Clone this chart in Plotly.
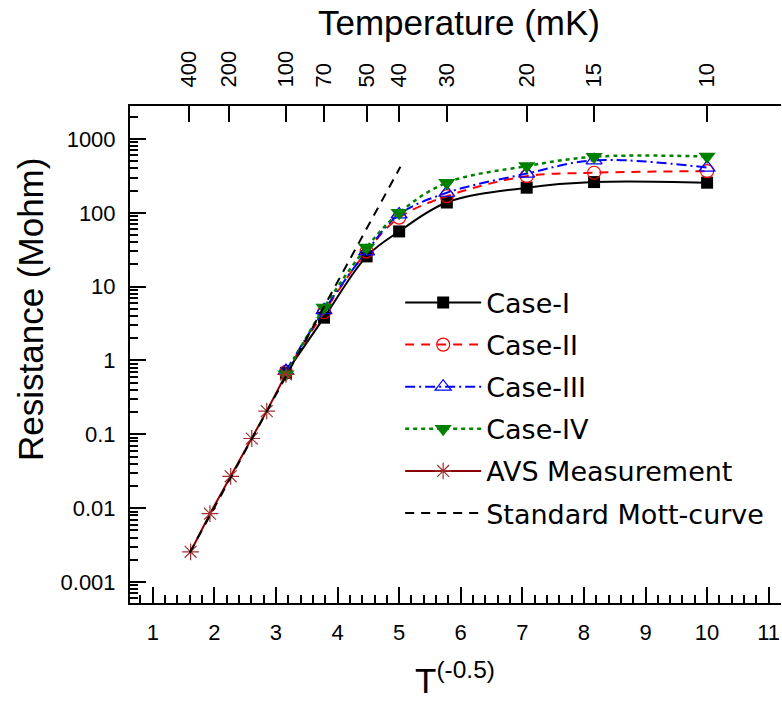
import plotly.graph_objects as go

# Simulated resistance vs. T^(-1/2) for four cases, with the AVS bridge data
# and the standard Mott variable-range-hopping line.
case_x = [3.162, 3.780, 4.472, 5.000, 5.774, 7.071, 8.165, 10.000]
case_i = [0.68, 3.8, 25.7, 56, 138, 219, 261, 256]
case_ii = [0.70, 4.5, 30, 86, 168, 314, 349, 367]
case_iii = [0.72, 4.8, 30, 95, 187, 340, 515, 410]
case_iv = [0.65, 5.2, 34, 100, 256, 430, 575, 580]

avs_x = [1.614, 1.928, 2.265, 2.607, 2.850, 3.162]
avs_r = [0.00256, 0.0084, 0.027, 0.0877, 0.206, 0.65]

mott_x = [1.60, 5.02]
mott_r = [0.0025, 420]

# Temperature axis (mK) on top
temp_mk = [400, 200, 100, 70, 50, 40, 30, 20, 15, 10]
temp_labels = [str(t) for t in temp_mk]

# Resistance decade labels
r_ticks = [0.001, 0.01, 0.1, 1, 10, 100, 1000]
r_labels = ["0.001", "0.01", "0.1", "1", "10", "100", "1000"]

x_range = [0.63, 11.2]
y_range = [-3.285, 3.447]

ARIAL = "Liberation Sans, Arial, sans-serif"
tick_font = dict(family=ARIAL, size=22, color="black")
legend_font = dict(family="DejaVu Sans, Verdana, sans-serif", size=27, color="black")
title_font = dict(family=ARIAL, size=35, color="black")

fig = go.Figure()

fig.add_trace(go.Scatter(
    x=case_x, y=case_i, name="Case-I", mode="lines+markers",
    line=dict(color="black", width=2, shape="spline"),
    marker=dict(symbol="square", size=12, color="black"),
    legendgroup="g1",
))
fig.add_trace(go.Scatter(
    x=case_x, y=case_ii, name="Case-II", mode="lines+markers",
    line=dict(color="#ff0000", width=2, dash="9px,7px", shape="spline"),
    marker=dict(symbol="circle-open", size=13, color="#ff0000", line=dict(width=1.2)),
    legendgroup="g2",
))
fig.add_trace(go.Scatter(
    x=case_x, y=case_iii, name="Case-III", mode="lines+markers",
    line=dict(color="#0000ff", width=2, dash="10px,4px,2px,4px", shape="spline"),
    marker=dict(symbol="triangle-up-open", size=14, color="#0000ff", line=dict(width=1.2)),
    legendgroup="g3",
))
fig.add_trace(go.Scatter(
    x=case_x, y=case_iv, name="Case-IV", mode="lines+markers",
    line=dict(color="#008000", width=2.5, dash="4px,4px", shape="spline"),
    marker=dict(symbol="triangle-down", size=15, color="#008000"),
    legendgroup="g4",
))
fig.add_trace(go.Scatter(
    x=avs_x, y=avs_r, name="AVS Measurement", mode="lines+markers",
    line=dict(color="#8b0000", width=2),
    marker=dict(symbol="asterisk-open", size=14, color="#a03030", line=dict(width=1.2, color="#a03030")),
    legendgroup="g5",
))
fig.add_trace(go.Scatter(
    x=mott_x, y=mott_r, name="Standard Mott-curve", mode="lines",
    line=dict(color="black", width=2, dash="9px,7px"),
    legendgroup="g6",
))

# invisible carrier for the top temperature axis
fig.add_trace(go.Scatter(
    x=[x_range[0]], y=[1], xaxis="x2", mode="markers",
    marker=dict(opacity=0), showlegend=False, hoverinfo="skip",
))

temp_pos = [(t / 1000.0) ** -0.5 for t in temp_mk]

W, H = 782, 704
L, R, T, B = 130, 1, 106, 101
pw, ph = W - L - R, H - T - B


def px_to_paper(px, py):
    return (px - L) / pw, (H - B - py) / ph


fig.update_layout(
    width=W, height=H,
    margin=dict(l=L, r=R, t=T, b=B),
    paper_bgcolor="white", plot_bgcolor="white",
    showlegend=True,
    legend=dict(
        x=0.415, y=0.653, xanchor="left", yanchor="top",
        font=legend_font, itemwidth=76, traceorder="grouped",
        tracegroupgap=4, bgcolor="rgba(0,0,0,0)",
    ),
    xaxis=dict(
        range=x_range, tick0=0, dtick=1, ticks="inside", ticklen=16, tickwidth=2,
        tickcolor="black", showline=True, linewidth=2, linecolor="black",
        showgrid=False, zeroline=False, tickfont=tick_font, ticklabelstandoff=9,
        minor=dict(ticks="inside", ticklen=8, tickwidth=2, tickcolor="black", dtick=0.2, showgrid=False),
    ),
    xaxis2=dict(
        range=x_range, overlaying="x", side="top", tickmode="array",
        tickvals=temp_pos, ticktext=temp_labels, tickangle=-90,
        ticks="inside", ticklen=16, tickwidth=2, tickcolor="black",
        showline=True, linewidth=2, linecolor="black", showgrid=False,
        zeroline=False, tickfont=tick_font, ticklabelstandoff=12,
    ),
    yaxis=dict(
        type="log", range=y_range, tickmode="array", tickvals=r_ticks, ticktext=r_labels,
        ticks="inside", ticklen=16, tickwidth=2, tickcolor="black",
        showline=True, linewidth=2, linecolor="black", showgrid=False,
        zeroline=False, tickfont=tick_font, ticklabelstandoff=8,
        minor=dict(ticks="inside", ticklen=8, tickwidth=2, tickcolor="black", dtick="D1", showgrid=False),
    ),
)

# axis titles placed in pixel terms
titles = [
    ("Temperature (mK)", 459, 23, 0),
    ("T<sup>(-0.5)</sup>", 455, 678, 0),
    ("Resistance (Mohm)", 30, 310, -90),
]
for text, px, py, ang in titles:
    ax, ay = px_to_paper(px, py)
    fig.add_annotation(
        text=text, x=ax, y=ay, xref="paper", yref="paper",
        xanchor="center", yanchor="middle", showarrow=False,
        textangle=ang, font=title_font,
    )

fig.write_html("out.html")
